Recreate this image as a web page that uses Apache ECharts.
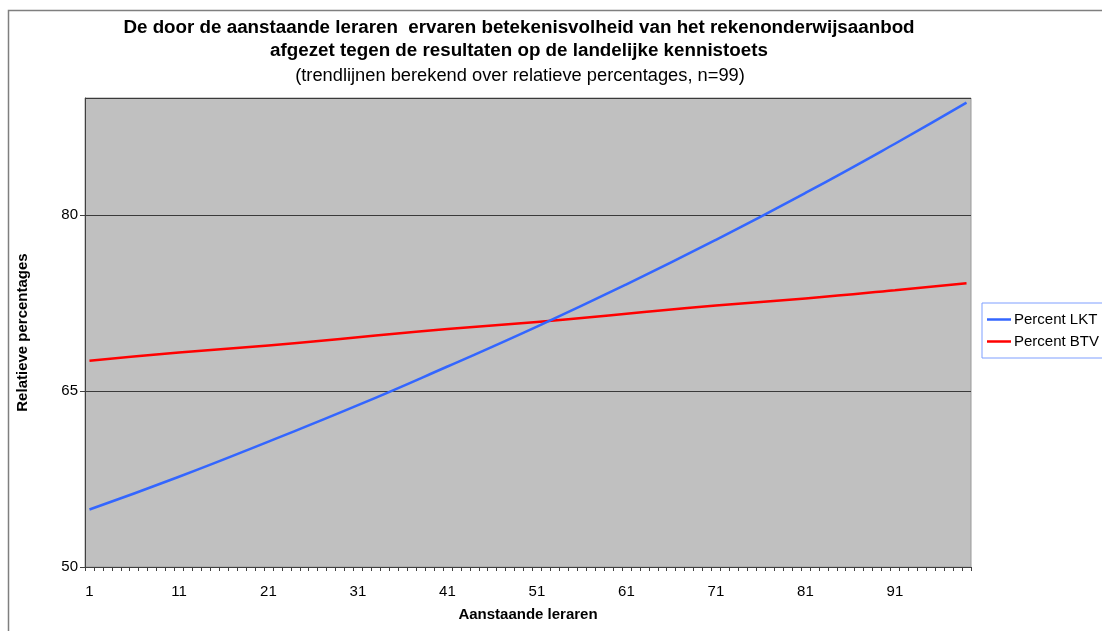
<!DOCTYPE html>
<html>
<head>
<meta charset="utf-8">
<script src="https://cdn.jsdelivr.net/npm/echarts@6/dist/echarts.min.js"></script>
<style>
  html, body { margin: 0; padding: 0; background: #ffffff; }
  #chart { width: 1102px; height: 631px; }
</style>
</head>
<body>
<div id="chart"></div>
<script>
// Student teachers 1..99 along the x axis
const students = Array.from({ length: 99 }, (_, i) => String(i + 1));

// Trend line readings (relative percentages) at selected students
const lktPoints = [
  ['1', 54.9], ['11', 57.7], ['21', 60.7], ['31', 63.8], ['41', 67.1], ['51', 70.5],
  ['61', 74.1], ['71', 77.9], ['81', 81.9], ['91', 86.1], ['99', 89.6]
];
const btvPoints = [
  ['1', 67.6], ['11', 68.3], ['21', 68.9], ['31', 69.6], ['41', 70.3], ['51', 70.9],
  ['61', 71.6], ['71', 72.3], ['81', 72.9], ['91', 73.6], ['99', 74.2]
];

const seriesNames = ['Percent LKT', 'Percent BTV'];
const titleLines = [
  'De door de aanstaande leraren  ervaren betekenisvolheid van het rekenonderwijsaanbod',
  'afgezet tegen de resultaten op de landelijke kennistoets'
];
const subtitle = '(trendlijnen berekend over relatieve percentages, n=99)';
const xAxisTitle = 'Aanstaande leraren';
const yAxisTitle = 'Relatieve percentages';

const FONT = '"Liberation Sans", Arial, sans-serif';

const chart = echarts.init(document.getElementById('chart'), null, { renderer: 'canvas' });

chart.setOption({
  backgroundColor: '#ffffff',
  animation: false,
  textStyle: { fontFamily: FONT },
  graphic: [
    {
      type: 'rect', silent: true, z: -10,
      shape: { x: 8.5, y: 10.5, width: 1300, height: 800 },
      style: { fill: null, stroke: '#7f7f7f', lineWidth: 1.5 }
    },
    {
      type: 'text', x: 519, y: 28,
      style: { text: titleLines[0], font: 'bold 18.8px ' + FONT, fill: '#000', textAlign: 'center', textVerticalAlign: 'middle' }
    },
    {
      type: 'text', x: 519, y: 51,
      style: { text: titleLines[1], font: 'bold 18.8px ' + FONT, fill: '#000', textAlign: 'center', textVerticalAlign: 'middle' }
    },
    {
      type: 'text', x: 520, y: 76,
      style: { text: subtitle, font: '18.3px ' + FONT, fill: '#000', textAlign: 'center', textVerticalAlign: 'middle' }
    }
  ],
  legend: {
    orient: 'vertical',
    left: 982,
    top: 303,
    data: seriesNames,
    icon: 'rect',
    itemWidth: 24,
    itemHeight: 2.5,
    itemGap: 7,
    padding: [9, 14, 9, 5],
    borderColor: '#7f9fff',
    borderWidth: 1,
    backgroundColor: '#ffffff',
    textStyle: { fontSize: 15, color: '#000', fontFamily: FONT, padding: [0, 0, 0, -2] }
  },
  grid: {
    left: 85,
    right: 131,
    top: 98,
    bottom: 64,
    show: true,
    backgroundColor: '#c0c0c0',
    borderColor: '#9a9a9a',
    borderWidth: 1
  },
  xAxis: {
    type: 'category',
    data: students,
    boundaryGap: true,
    name: xAxisTitle,
    nameLocation: 'middle',
    nameGap: 40,
    nameTextStyle: { fontSize: 15, fontWeight: 'bold', color: '#000', fontFamily: FONT },
    axisLine: { lineStyle: { color: '#404040', width: 1 } },
    axisTick: { show: true, interval: 0, length: 4, lineStyle: { color: '#404040' } },
    axisLabel: { interval: 9, fontSize: 15, color: '#000', margin: 17, fontFamily: FONT },
    splitLine: { show: false }
  },
  yAxis: {
    type: 'value',
    min: 50,
    max: 90,
    interval: 15,
    name: yAxisTitle,
    nameLocation: 'middle',
    nameRotate: 90,
    nameGap: 55,
    nameTextStyle: { fontSize: 15, fontWeight: 'bold', color: '#000', fontFamily: FONT },
    axisLine: { show: true, lineStyle: { color: '#404040', width: 1 } },
    axisTick: { show: true, length: 5, lineStyle: { color: '#404040' } },
    axisLabel: { fontSize: 15, color: '#000', margin: 7, showMaxLabel: false, fontFamily: FONT },
    splitLine: { show: true, lineStyle: { color: '#3a3a3a', width: 1 } }
  },
  series: [
    {
      name: seriesNames[0],
      type: 'line',
      data: lktPoints,
      smooth: true,
      symbol: 'none',
      lineStyle: { color: '#3366ff', width: 2.5 },
      itemStyle: { color: '#3366ff' },
      z: 3
    },
    {
      name: seriesNames[1],
      type: 'line',
      data: btvPoints,
      smooth: true,
      symbol: 'none',
      lineStyle: { color: '#ff0000', width: 2.5 },
      itemStyle: { color: '#ff0000' },
      z: 2
    }
  ]
});
</script>
</body>
</html>
